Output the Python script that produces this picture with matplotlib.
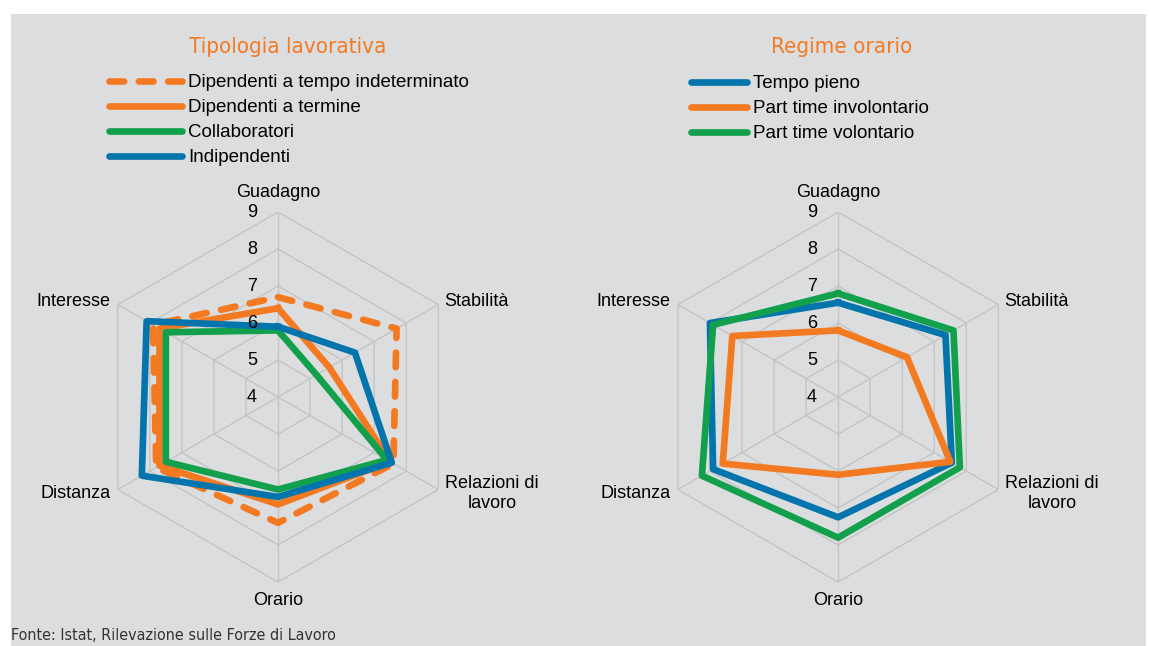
import numpy as np
import matplotlib
matplotlib.use('Agg')
import matplotlib.pyplot as plt
from matplotlib import font_manager
from matplotlib.patches import Rectangle

# dati
assi = ['Guadagno', 'Stabilità', 'Relazioni di\nlavoro', 'Orario', 'Distanza', 'Interesse']
livelli = [4, 5, 6, 7, 8, 9]

tipologia_labels = ['Dipendenti a tempo indeterminato', 'Dipendenti a termine',
                    'Collaboratori', 'Indipendenti']
indeterminato = [6.7, 7.7, 7.6, 7.4, 7.8, 7.9]
termine = [6.4, 5.6, 7.5, 6.9, 7.7, 7.7]
collaboratori = [5.8, 5.2, 7.4, 6.5, 7.5, 7.5]
indipendenti = [5.9, 6.4, 7.55, 6.7, 8.25, 8.1]

regime_labels = ['Tempo pieno', 'Part time involontario', 'Part time volontario']
tempo_pieno = [6.55, 7.35, 7.55, 7.25, 7.9, 8.0]
pt_involontario = [5.8, 6.15, 7.5, 6.1, 7.6, 7.3]
pt_volontario = [6.8, 7.6, 7.8, 7.8, 8.25, 7.9]

BLU = '#0474AC'
ARANCIO = '#F47A21'
VERDE = '#12A04C'
GRIGIO = '#C4C4C4'
SFONDO = '#DCDDDF'

plt.rcParams['font.family'] = ['Liberation Sans', 'DejaVu Sans']
nomi = {f.name for f in font_manager.fontManager.ttflist}
if 'Liberation Sans Narrow' in nomi:
    stretto = dict(family=['Liberation Sans Narrow', 'DejaVu Sans'])
else:
    stretto = dict(family=['DejaVu Sans'], stretch='condensed')

fig = plt.figure(figsize=(11.51, 6.46), dpi=100)
fig.patch.set_facecolor('white')
fig.patches.append(Rectangle((11/1151, 0), 1135/1151, 1 - 14/646,
                             transform=fig.transFigure, facecolor=SFONDO,
                             edgecolor='none', zorder=-10))

theta = np.linspace(0, 2*np.pi, len(assi), endpoint=False)
theta_c = np.append(theta, theta[0])

def chiudi(v):
    return list(v) + [v[0]]

def radar(rect):
    ax = fig.add_axes(rect, projection='polar')
    ax.set_theta_offset(np.pi/2)
    ax.set_theta_direction(-1)
    ax.set_ylim(4, 9)
    ax.grid(False)
    ax.set_xticks([])
    ax.set_yticks([])
    ax.spines['polar'].set_visible(False)
    ax.patch.set_visible(False)
    for lv in livelli[1:]:
        ax.plot(theta_c, [lv]*len(theta_c), color=GRIGIO, lw=1, zorder=1)
    for t in theta:
        ax.plot([t, t], [4, 9], color=GRIGIO, lw=1, zorder=1)
    for lv in livelli:
        ax.annotate(str(lv), xy=(0, lv), xytext=(-26, 0), textcoords='offset pixels',
                    ha='center', va='center', fontsize=13, color='black', zorder=6)
    offs = [(0, 20, 'center'), (6, 3, 'left'), (7, -4, 'left'),
            (0, -18, 'center'), (-7, -4, 'right'), (-7, 3, 'right')]
    for t, nome, (dx, dy, ha) in zip(theta, assi, offs):
        ax.annotate(nome, xy=(t, 9), xytext=(dx, dy), textcoords='offset pixels',
                    ha=ha, va='center', multialignment='center', fontsize=13)
    return ax

ax1 = radar([0.0808, 0.099, 0.3215, 0.5728])
l1 = ax1.plot(theta_c, chiudi(indeterminato), color=ARANCIO, lw=4.8,
              dashes=(2.2, 2.2), dash_capstyle='round', zorder=3)[0]
l2 = ax1.plot(theta_c, chiudi(termine), color=ARANCIO, lw=4.8, zorder=3)[0]
l3 = ax1.plot(theta_c, chiudi(collaboratori), color=VERDE, lw=4.8, zorder=3)[0]
l4 = ax1.plot(theta_c, chiudi(indipendenti), color=BLU, lw=4.8, zorder=3)[0]

ax2 = radar([0.5674, 0.099, 0.3215, 0.5728])
r1 = ax2.plot(theta_c, chiudi(tempo_pieno), color=BLU, lw=4.8, zorder=3)[0]
r2 = ax2.plot(theta_c, chiudi(pt_involontario), color=ARANCIO, lw=4.8, zorder=3)[0]
r3 = ax2.plot(theta_c, chiudi(pt_volontario), color=VERDE, lw=4.8, zorder=3)[0]

fig.text(288/1151, 1 - 47/646, 'Tipologia lavorativa', ha='center', va='center',
         fontsize=16, color=ARANCIO, **stretto)
fig.text(842/1151, 1 - 47/646, 'Regime orario', ha='center', va='center',
         fontsize=16, color=ARANCIO, **stretto)

leg1 = fig.legend([l1, l2, l3, l4], tipologia_labels, loc='upper left',
                  bbox_to_anchor=(109/1151, 1 - 74/646), frameon=False, fontsize=13.5,
                  handlelength=3.9, handletextpad=0.3, labelspacing=0.42,
                  borderaxespad=0, borderpad=0)
for h in leg1.get_lines():
    h.set_solid_capstyle('round')
leg2 = fig.legend([r1, r2, r3], regime_labels, loc='upper left',
                  bbox_to_anchor=(691/1151, 1 - 75/646), frameon=False, fontsize=13.5,
                  handlelength=3.0, handletextpad=0.3, labelspacing=0.42,
                  borderaxespad=0, borderpad=0)
for h in leg2.get_lines():
    h.set_solid_capstyle('round')

fig.text(11/1151, 1 - 635/646, 'Fonte: Istat, Rilevazione sulle Forze di Lavoro',
         ha='left', va='center', fontsize=11.5, color='#333333', **stretto)

fig.savefig('out.png', dpi=100, facecolor=fig.get_facecolor())
